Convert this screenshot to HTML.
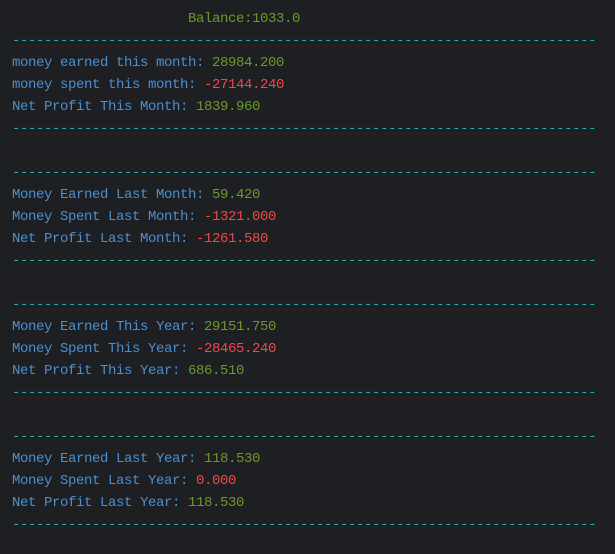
<!DOCTYPE html>
<html><head><meta charset="utf-8"><style>
html,body{margin:0;padding:0;background:#1e1f22;width:615px;height:554px;overflow:hidden}
pre{margin:0;position:absolute;left:12px;top:8px;font-family:"Liberation Mono",monospace;font-size:14px;letter-spacing:-0.4px;line-height:22px;color:#4a8fd0;white-space:pre}
.g{color:#6a9a2a}.r{color:#f04848}.d{color:#19b3b3}
</style></head><body>
<pre><span class="g">                      Balance:1033.0</span>
<span class="d">-------------------------------------------------------------------------</span>
money earned this month: <span class="g">28984.200</span>
money spent this month: <span class="r">-27144.240</span>
Net Profit This Month: <span class="g">1839.960</span>
<span class="d">-------------------------------------------------------------------------</span>

<span class="d">-------------------------------------------------------------------------</span>
Money Earned Last Month: <span class="g">59.420</span>
Money Spent Last Month: <span class="r">-1321.000</span>
Net Profit Last Month: <span class="r">-1261.580</span>
<span class="d">-------------------------------------------------------------------------</span>

<span class="d">-------------------------------------------------------------------------</span>
Money Earned This Year: <span class="g">29151.750</span>
Money Spent This Year: <span class="r">-28465.240</span>
Net Profit This Year: <span class="g">686.510</span>
<span class="d">-------------------------------------------------------------------------</span>

<span class="d">-------------------------------------------------------------------------</span>
Money Earned Last Year: <span class="g">118.530</span>
Money Spent Last Year: <span class="r">0.000</span>
Net Profit Last Year: <span class="g">118.530</span>
<span class="d">-------------------------------------------------------------------------</span></pre>
</body></html>
